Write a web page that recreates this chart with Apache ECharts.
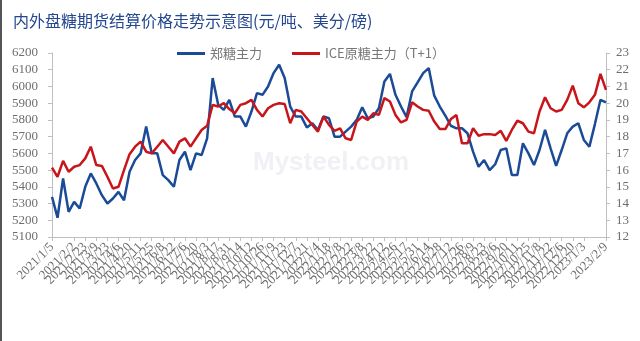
<!DOCTYPE html>
<html><head><meta charset="utf-8">
<script src="https://cdn.jsdelivr.net/npm/echarts@6/dist/echarts.min.js"></script>
<style>html,body{margin:0;padding:0;background:#fff}#c{width:640px;height:341px}</style>
</head><body><div id="c"></div><script>
const titleText = '内外盘糖期货结算价格走势示意图(元/吨、美分/磅)';
const seriesNames = ['郑糖主力', 'ICE原糖主力（T+1）'];
const dates = [
'2021/1/5','2021/1/12','2021/1/19','2021/1/26','2021/2/2','2021/2/9','2021/2/23','2021/3/2','2021/3/9','2021/3/16','2021/3/23','2021/3/30',
'2021/4/6','2021/4/13','2021/4/20','2021/4/27','2021/5/11','2021/5/18','2021/5/25','2021/6/1','2021/6/8','2021/6/15','2021/6/22','2021/6/29',
'2021/7/6','2021/7/13','2021/7/20','2021/7/27','2021/8/3','2021/8/10','2021/8/17','2021/8/24','2021/8/31','2021/9/7','2021/9/14','2021/9/28',
'2021/10/12','2021/10/19','2021/10/26','2021/11/2','2021/11/9','2021/11/16','2021/11/23','2021/11/30','2021/12/7','2021/12/14','2021/12/21','2021/12/28',
'2022/1/4','2022/1/11','2022/1/18','2022/1/25','2022/2/8','2022/2/15','2022/2/22','2022/3/1','2022/3/8','2022/3/15','2022/3/22','2022/3/29',
'2022/4/12','2022/4/19','2022/4/26','2022/5/10','2022/5/17','2022/5/24','2022/5/31','2022/6/7','2022/6/14','2022/6/21','2022/6/28',
'2022/7/5','2022/7/12','2022/7/19','2022/7/26','2022/8/2','2022/8/9','2022/8/16','2022/8/23','2022/8/30','2022/9/6','2022/9/13','2022/9/20','2022/9/27',
'2022/10/11','2022/10/18','2022/10/25','2022/11/1','2022/11/8','2022/11/15','2022/11/22','2022/11/29','2022/12/6','2022/12/13','2022/12/20','2022/12/27',
'2023/1/3','2023/1/10','2023/1/17','2023/1/31','2023/2/9'
];
// 郑糖主力 (元/吨, left axis)
const zhengSugar = [
5340,5215,5450,5250,5310,5270,5400,5480,5420,5350,5300,5330,5370,5320,5490,5560,5600,5760,5600,5600,
5470,5440,5400,5560,5610,5500,5600,5590,5690,6050,5890,5860,5920,5820,5820,5760,5850,5960,5950,6000,
6080,6130,6050,5880,5820,5820,5755,5780,5740,5820,5810,5700,5700,5730,5760,5800,5875,5810,5820,5870,
6030,6075,5950,5880,5817,5970,6025,6080,6110,5945,5880,5825,5765,5750,5750,5720,5610,5520,5560,5500,
5535,5620,5630,5470,5470,5660,5600,5530,5620,5740,5630,5525,5620,5720,5760,5780,5680,5640,5775,5920,5905
];
// ICE原糖主力（T+1） (美分/磅, right axis)
const iceRawSugar = [
16.15,15.6,16.55,15.9,16.2,16.3,16.7,17.4,16.3,16.25,15.6,14.9,15.0,16.0,16.95,17.4,17.7,17.1,17.0,17.4,
17.8,17.4,17.0,17.7,17.9,17.4,17.9,18.4,18.65,19.9,19.8,20.0,19.65,19.4,19.9,20.0,20.2,19.6,19.2,19.7,
19.9,20.0,19.95,18.8,19.6,19.5,19.1,18.7,18.3,19.2,18.7,18.35,18.5,17.9,17.8,18.9,19.2,19.0,19.4,19.3,
20.3,20.1,19.3,18.85,19.0,20.05,19.8,19.6,19.55,18.9,18.45,18.45,19.05,19.3,17.6,17.6,18.5,18.05,18.15,18.15,
18.1,18.35,17.75,18.4,18.95,18.8,18.3,18.2,19.5,20.35,19.7,19.5,19.6,20.2,21.05,20.0,19.75,20.05,20.5,21.75,20.8
];
const leftTicks = [5100,6200,100];
const rightTicks = [12,23,1];

const chart = echarts.init(document.getElementById('c'), null, {renderer:'canvas'});
const axisGray = '#BFBFBF';
const labelGray = '#6E6E6E';
const serif = '"Liberation Serif","DejaVu Serif",serif';
chart.setOption({
  animation:false,
  backgroundColor:'#fff',
  title:{text:titleText,left:8,top:8,textStyle:{fontFamily:'"Noto Sans CJK SC"',fontSize:16,fontWeight:'normal',color:'#24478F'}},
  legend:{
    left:172, top:42, itemWidth:28, itemHeight:3, itemGap:30, icon:'rect',
    textStyle:{fontFamily:'"Noto Sans CJK SC"',fontSize:13,color:'#777'},
    data:seriesNames
  },
  graphic:[
    {type:'rect',left:0,top:0,shape:{width:2,height:341},style:{fill:'#555'},silent:true},
    {type:'text',left:253,top:150,z:-1,style:{text:'Mysteel.com',font:'bold 26px "Liberation Sans",Arial,sans-serif',fill:'#F1F1F5'},silent:true}
  ],
  grid:{left:52,right:34,top:53,bottom:104,containLabel:false},
  xAxis:{
    type:'category', data:dates, boundaryGap:false,
    axisLine:{lineStyle:{color:axisGray}},
    axisTick:{show:true,interval:1,length:4,lineStyle:{color:axisGray}},
    axisLabel:{interval:1,rotate:45,margin:8,fontSize:13,fontFamily:serif,color:labelGray,showMinLabel:true,showMaxLabel:true,hideOverlap:false}
  },
  yAxis:[
    {type:'value',min:leftTicks[0],max:leftTicks[1],interval:leftTicks[2],
     axisLine:{show:true,lineStyle:{color:axisGray}},axisTick:{show:true,length:4,lineStyle:{color:axisGray}},
     splitLine:{show:false},axisLabel:{margin:14,fontSize:13,fontFamily:serif,color:labelGray,formatter:v=>String(v)}},
    {type:'value',min:rightTicks[0],max:rightTicks[1],interval:rightTicks[2],position:'right',
     axisLine:{show:true,lineStyle:{color:axisGray}},axisTick:{show:true,length:4,lineStyle:{color:axisGray}},
     splitLine:{show:false},axisLabel:{margin:10,fontSize:13,fontFamily:serif,color:labelGray,formatter:v=>String(v)}}
  ],
  series:[
    {name:seriesNames[0],type:'line',yAxisIndex:0,data:zhengSugar,symbol:'none',
     lineStyle:{width:2.5,color:'#1B4A97'},itemStyle:{color:'#1B4A97'}},
    {name:seriesNames[1],type:'line',yAxisIndex:1,data:iceRawSugar,symbol:'none',
     lineStyle:{width:2.5,color:'#C8151B'},itemStyle:{color:'#C8151B'}}
  ]
});
</script></body></html>
